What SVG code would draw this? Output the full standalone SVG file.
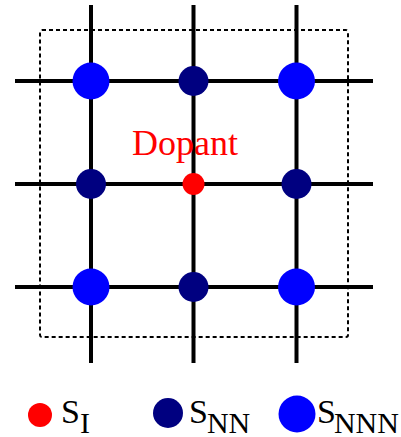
<svg xmlns="http://www.w3.org/2000/svg" width="401" height="437" viewBox="0 0 401 437">
<style>
.ln{stroke:#000;stroke-width:4;fill:none}
.box{stroke:#000;stroke-width:2;fill:none;stroke-dasharray:4 3}
.nnn{fill:#0000ff}
.nn{fill:#000080}
.si{fill:#ff0000}
</style>
<rect class="box" x="40" y="30" width="308" height="307" rx="2"/>
<g id="connectors">
<line class="ln" x1="91" y1="5" x2="91" y2="363"/>
<line class="ln" x1="193.5" y1="5" x2="193.5" y2="363"/>
<line class="ln" x1="296.5" y1="5" x2="296.5" y2="363"/>
<line class="ln" x1="15" y1="81" x2="373" y2="81"/>
<line class="ln" x1="15" y1="184" x2="373" y2="184"/>
<line class="ln" x1="15" y1="287" x2="373" y2="287"/>
</g>
<g id="n11"><circle class="nnn" cx="91" cy="81" r="18.5"/></g>
<g id="n12"><circle class="nn" cx="193.5" cy="81" r="15"/></g>
<g id="n13"><circle class="nnn" cx="296.5" cy="81" r="18.5"/></g>
<g id="n21"><circle class="nn" cx="91" cy="184" r="15"/></g>
<g id="dopant"><circle class="si" cx="193.5" cy="184" r="11"/><text x="132" y="155" fill="#ff0000" font-family="Liberation Serif, Times New Roman, serif" font-size="36">Dopant</text></g>
<g id="n23"><circle class="nn" cx="296.5" cy="184" r="15"/></g>
<g id="n31"><circle class="nnn" cx="91" cy="287" r="18.5"/></g>
<g id="n32"><circle class="nn" cx="193.5" cy="287" r="15"/></g>
<g id="n33"><circle class="nnn" cx="296.5" cy="287" r="18.5"/></g>
<g id="legend-si"><circle class="si" cx="40" cy="415" r="12"/><text x="61" y="423" font-family="Liberation Serif, Times New Roman, serif" font-size="34">S<tspan font-size="30" dy="10">I</tspan></text></g>
<g id="legend-snn"><circle class="nn" cx="168" cy="413" r="15"/><text x="189" y="423" font-family="Liberation Serif, Times New Roman, serif" font-size="34">S<tspan font-size="30" dy="10" dx="-1">NN</tspan></text></g>
<g id="legend-snnn"><circle class="nnn" cx="297" cy="414" r="18.5"/><text x="317" y="423" font-family="Liberation Serif, Times New Roman, serif" font-size="34">S<tspan font-size="30" dy="10" dx="-2">NNN</tspan></text></g>
</svg>
